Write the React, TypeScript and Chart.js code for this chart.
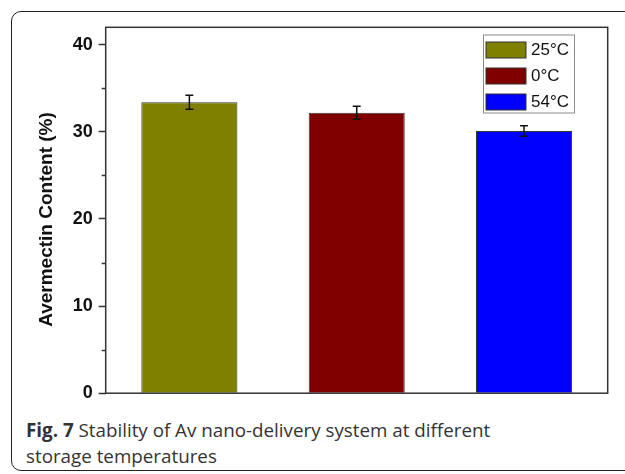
import React, { useEffect, useRef } from "react";
import { Chart, registerables } from "chart.js";

Chart.register(...registerables);

const categories = ["25°C", "0°C", "54°C"];
const values = [33.4, 32.2, 30.1];
const errors = [0.8, 0.75, 0.6];
const barColors = ["#808000", "#800000", "#0000FF"];
const yTitle = "Avermectin Content (%)";
const yMin = 0;
const yMax = 42;
const yStep = 5;

const AXIS_COLOR = "#333333";
const TITLE_FONT = "bold 19px 'Liberation Sans', Arial, sans-serif";

const framePlugin = {
  id: "frameAndExtras",
  afterDraw(chart: any) {
    const { ctx, chartArea, scales } = chart;
    const y = scales.y;
    ctx.save();
    // minor ticks
    ctx.strokeStyle = AXIS_COLOR;
    ctx.lineWidth = 1.5;
    for (let v = yMin; v <= yMax; v += yStep) {
      if (v % 10 !== 0) {
        const py = Math.round(y.getPixelForValue(v)) + 0.5;
        ctx.beginPath();
        ctx.moveTo(chartArea.left - 4, py);
        ctx.lineTo(chartArea.left, py);
        ctx.stroke();
      }
    }
    // frame
    ctx.strokeRect(chartArea.left, chartArea.top, chartArea.right - chartArea.left, chartArea.bottom - chartArea.top);

    // error bars
    const meta = chart.getDatasetMeta(0);
    ctx.strokeStyle = "#111111";
    ctx.lineWidth = 1.5;
    meta.data.forEach((bar: any, i: number) => {
      const x = bar.x;
      const t = y.getPixelForValue(values[i] + errors[i]);
      const b = y.getPixelForValue(values[i] - errors[i]);
      ctx.beginPath();
      ctx.moveTo(x, t);
      ctx.lineTo(x, b);
      ctx.moveTo(x - 4, t);
      ctx.lineTo(x + 4, t);
      ctx.moveTo(x - 4, b);
      ctx.lineTo(x + 4, b);
      ctx.stroke();
    });

    // legend
    const lx = 483.5;
    const ly = 35;
    const lw = 91;
    const lh = 78;
    ctx.fillStyle = "#ffffff";
    ctx.fillRect(lx, ly, lw, lh);
    ctx.strokeStyle = "#8a8a8a";
    ctx.lineWidth = 1;
    ctx.strokeRect(lx, ly, lw, lh);
    ctx.font = "17px 'Liberation Sans', Arial, sans-serif";
    ctx.textBaseline = "middle";
    ctx.textAlign = "left";
    categories.forEach((c, i) => {
      const sy = ly + 7 + i * 26;
      ctx.fillStyle = barColors[i];
      ctx.fillRect(lx + 2.5, sy, 40, 16);
      ctx.strokeStyle = AXIS_COLOR;
      ctx.lineWidth = 1;
      ctx.strokeRect(lx + 2.5, sy, 40, 16);
      ctx.fillStyle = "#111111";
      ctx.fillText(c, lx + 47.5, sy + 8.5);
    });

    // y title
    ctx.save();
    ctx.translate(46.5, 219.5);
    ctx.rotate(-Math.PI / 2);
    ctx.font = TITLE_FONT;
    ctx.fillStyle = "#111111";
    ctx.textAlign = "center";
    ctx.textBaseline = "middle";
    ctx.fillText(yTitle, 0, 0);
    ctx.restore();

    ctx.restore();
  },
};

function BarChart() {
  const ref = useRef<HTMLCanvasElement>(null);
  useEffect(() => {
    if (!ref.current) return;
    const chart = new Chart(ref.current, {
      type: "bar",
      data: {
        labels: categories,
        datasets: [
          {
            data: values,
            backgroundColor: barColors,
            borderColor: AXIS_COLOR,
            borderWidth: 1,
            barPercentage: 0.574,
            categoryPercentage: 1,
          },
        ],
      },
      options: {
        animation: false,
        responsive: false,
        layout: { padding: { top: 27.3, right: 17.3, bottom: 10.7, left: 0 } },
        plugins: { legend: { display: false }, tooltip: { enabled: false }, title: { display: false } },
        scales: {
          x: { display: false },
          y: {
            min: yMin,
            max: yMax,
            afterFit: (scale: any) => {
              scale.width = 105.7;
            },
            border: { display: false },
            grid: {
              drawOnChartArea: false,
              drawTicks: true,
              tickLength: 7,
              tickWidth: 1.5,
              tickColor: (c: any) => (c.tick && c.tick.value % 10 === 0 ? AXIS_COLOR : "rgba(0,0,0,0)"),
            },
            ticks: {
              stepSize: yStep,
              includeBounds: false,
              padding: 6,
              color: "#111111",
              font: { family: "'Liberation Sans', Arial, sans-serif", size: 18, weight: "bold" },
              callback: (v: any) => (Number(v) % 10 === 0 ? String(v) : ""),
            },
          },
        },
      },
      plugins: [framePlugin],
    });
    return () => chart.destroy();
  }, []);
  return <canvas ref={ref} width={625} height={410} style={{ position: "absolute", left: 0, top: 0, width: 625, height: 410 }} />;
}

export default function App() {
  return (
    <div style={{ position: "absolute", left: 0, top: 0, width: 625, height: 474, overflow: "hidden", background: "#fff" }}>
      <div
        style={{
          position: "absolute",
          left: 11,
          top: 11,
          width: 700,
          height: 460,
          boxSizing: "border-box",
          border: "1.5px solid #222",
          borderRadius: 10,
        }}
      />
      <BarChart />
      <div
        style={{
          position: "absolute",
          left: 26,
          top: 417,
          fontFamily: "'Open Sans', sans-serif",
          fontSize: 18.8,
          lineHeight: "26px",
          color: "#333",
          whiteSpace: "nowrap",
        }}
      >
        <b>Fig. 7</b> Stability of Av nano-delivery system at different
        <br />
        storage temperatures
      </div>
    </div>
  );
}
